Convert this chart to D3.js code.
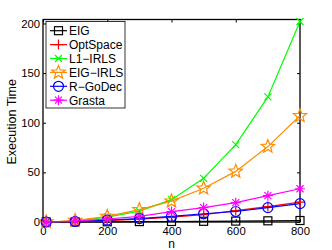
<!DOCTYPE html>
<html>
<head>
<meta charset="utf-8">
<script src="https://cdn.jsdelivr.net/npm/d3@7"></script>
<style>
  body { margin: 0; background: #fff; }
  text { font-family: "Liberation Sans", Arial, sans-serif; fill: #000; }
</style>
</head>
<body>
<div id="chart"></div>
<script>
// problem sizes (x axis)
const sizes = [10, 100, 200, 300, 400, 500, 600, 700, 800];

// execution times
const eig      = [0, 0.1, 0.2, 0.4, 0.5, 0.7, 0.9, 1.2, 1.5];
const optSpace = [0, 0.3, 1.3, 2.8, 5, 7.5, 11.5, 15.5, 20];
const l1Irls   = [0, 1, 5, 11, 22.5, 44, 78, 126, 202];
const eigIrls  = [0, 1.5, 5.6, 12.4, 21, 34, 51, 76, 107];
const rGoDec   = [0, 0.5, 2, 3.5, 5.6, 8.3, 10.6, 14.5, 18.5];
const grasta   = [0, 1, 3, 5.6, 10.5, 14.5, 19.5, 26.5, 33.5];

const xTicks = [0, 200, 400, 600, 800];
const yTicks = [0, 50, 100, 150, 200];

const series = [
    { name: "EIG", values: eig, color: "#000000", marker: "square" },
    { name: "OptSpace", values: optSpace, color: "#ff0000", marker: "plus" },
    { name: "L1\u2212IRLS", values: l1Irls, color: "#00ff00", marker: "x" },
    { name: "EIG\u2212IRLS", values: eigIrls, color: "#ff8c00", marker: "star" },
    { name: "R\u2212GoDec", values: rGoDec, color: "#0000ff", marker: "circle" },
    { name: "Grasta", values: grasta, color: "#ff00ff", marker: "asterisk" }
];

const width = 332, height = 250;
const margin = { top: 19.5, right: 32, bottom: 28, left: 43 };

const svg = d3.select("#chart").append("svg")
    .attr("width", width)
    .attr("height", height);

const x = d3.scaleLinear().domain([0, 800]).range([margin.left, width - margin.right]);
const y = d3.scaleLinear().domain([0, 204]).range([height - margin.bottom, margin.top]);

// marker shapes drawn centred at 0,0
function drawMarker(g, type, color) {
    if (type === "square") {
        g.append("rect").attr("x", -4).attr("y", -4).attr("width", 8).attr("height", 8)
            .attr("fill", "none").attr("stroke", color).attr("stroke-width", 1.2);
    } else if (type === "circle") {
        g.append("circle").attr("r", 5)
            .attr("fill", "none").attr("stroke", color).attr("stroke-width", 1.2);
    } else if (type === "plus") {
        g.append("path").attr("d", "M-5,0H5M0,-5V5")
            .attr("stroke", color).attr("stroke-width", 1.2);
    } else if (type === "x") {
        g.append("path").attr("d", "M-3.5,-3.5L3.5,3.5M-3.5,3.5L3.5,-3.5")
            .attr("stroke", color).attr("stroke-width", 1.2);
    } else if (type === "asterisk") {
        g.append("path").attr("d", "M-5,0H5M0,-5V5M-3.5,-3.5L3.5,3.5M-3.5,3.5L3.5,-3.5")
            .attr("stroke", color).attr("stroke-width", 1.2);
    } else if (type === "star") {
        const pts = d3.range(10).map(i => {
            const r = i % 2 === 0 ? 7 : 3;
            const a = -Math.PI / 2 + i * Math.PI / 5;
            return [r * Math.cos(a), r * Math.sin(a)];
        });
        g.append("path").attr("d", "M" + pts.join("L") + "Z")
            .attr("fill", "none").attr("stroke", color).attr("stroke-width", 1.2);
    }
}

// axes (box with inward ticks on all sides)
const x0 = x.range()[0], x1 = x.range()[1], y0 = y.range()[0], y1 = y.range()[1];

const bottomAxis = svg.append("g")
    .attr("transform", `translate(0,${y0})`)
    .call(d3.axisBottom(x).tickValues(xTicks).tickSize(-3).tickPadding(5));
const topAxis = svg.append("g")
    .attr("transform", `translate(0,${y1})`)
    .call(d3.axisTop(x).tickValues(xTicks).tickSize(-3).tickFormat(""));
const leftAxis = svg.append("g")
    .attr("transform", `translate(${x0},0)`)
    .call(d3.axisLeft(y).tickValues(yTicks).tickSize(-3).tickPadding(3));
const rightAxis = svg.append("g")
    .attr("transform", `translate(${x1},0)`)
    .call(d3.axisRight(y).tickValues(yTicks).tickSize(-3).tickFormat(""));

[bottomAxis, topAxis, leftAxis, rightAxis].forEach(a => {
    a.select(".domain").remove();
    a.selectAll("line").attr("stroke", "#000");
    a.selectAll("text").style("font-size", "11.3px").style("font-family", "Liberation Sans, Arial, sans-serif");
});

svg.append("rect")
    .attr("x", x0).attr("y", y1)
    .attr("width", x1 - x0).attr("height", y0 - y1)
    .attr("fill", "none").attr("stroke", "#000").attr("stroke-width", 1.3);

// axis labels
svg.append("text")
    .attr("x", (x0 + x1) / 2).attr("y", 247.5)
    .attr("text-anchor", "middle")
    .style("font-size", "12px")
    .text("n");

svg.append("text")
    .attr("transform", `translate(15.5,${(y0 + y1) / 2 + 1}) rotate(-90)`)
    .attr("text-anchor", "middle")
    .style("font-size", "12.5px")
    .text("Execution Time");

// lines + markers
const line = d3.line()
    .x((d, i) => x(sizes[i]))
    .y(d => y(d));

series.forEach(s => {
    const g = svg.append("g");
    g.append("path")
        .datum(s.values)
        .attr("d", line)
        .attr("fill", "none")
        .attr("stroke", s.color)
        .attr("stroke-width", 1.2);
    s.values.forEach((v, i) => {
        const m = g.append("g").attr("transform", `translate(${x(sizes[i])},${y(v)})`);
        drawMarker(m, s.marker, s.color);
    });
});

// legend
const legend = svg.append("g").attr("transform", "translate(46,21.5)");
legend.append("rect")
    .attr("width", 79).attr("height", 86.5)
    .attr("fill", "#fff").attr("stroke", "#000").attr("stroke-width", 0.8);

series.forEach((s, i) => {
    const row = legend.append("g").attr("transform", `translate(0,${9.2 + i * 13.9})`);
    row.append("line")
        .attr("x1", 4).attr("x2", 21)
        .attr("stroke", s.color).attr("stroke-width", 1.2);
    const m = row.append("g").attr("transform", "translate(12.5,0)");
    drawMarker(m, s.marker, s.color);
    row.append("text")
        .attr("x", 23).attr("dy", "0.36em")
        .style("font-size", "12px")
        .text(s.name);
});
</script>
</body>
</html>
